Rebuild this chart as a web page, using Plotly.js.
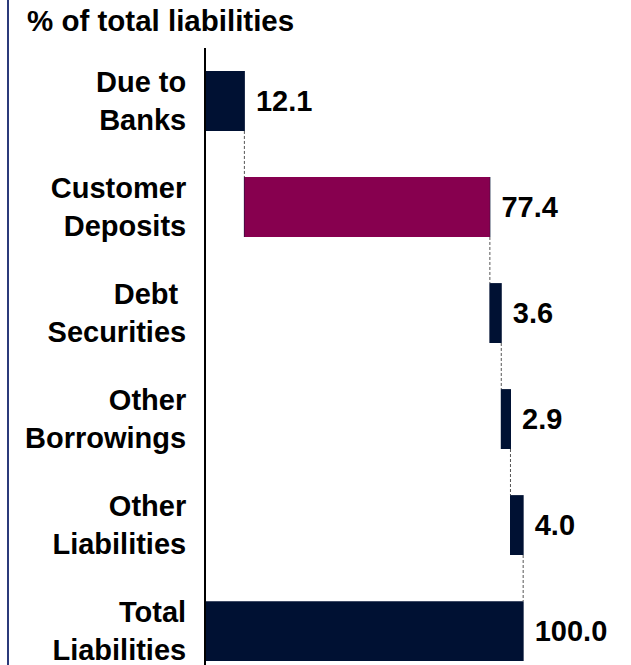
<!DOCTYPE html>
<html>
<head>
<meta charset="utf-8">
<script src="https://cdn.plot.ly/plotly-3.0.1.min.js"></script>
<style>
html,body{margin:0;padding:0;background:#fff;}
#chart{width:631px;height:665px;}
</style>
</head>
<body>
<div id="chart"></div>
<script>
var categories = ["Due to<br>Banks", "Customer<br>Deposits", "Debt <br>Securities", "Other<br>Borrowings", "Other<br>Liabilities", "Total<br>Liabilities"];
var values = [12.1, 77.4, 3.6, 2.9, 4.0, 100.0];
var measures = ["relative", "relative", "relative", "relative", "relative", "total"];
var highlightIndex = 1; // Customer Deposits
var chartTitle = "% of total liabilities";

var navy = "#001133";
var magenta = "#87004F";
var font = "Liberation Sans, Arial, sans-serif";

// cumulative start for the highlighted bar
var base = 0;
for (var i = 0; i < highlightIndex; i++) base += values[i];

var waterfall = {
  type: "waterfall",
  orientation: "h",
  y: categories,
  x: values,
  measure: measures,
  text: values.map(function(v){ return " " + v.toFixed(1); }),
  textposition: "outside",
  textfont: {family: font, size: 29, color: "#000", weight: "bold"},
  cliponaxis: false,
  width: 0.565,
  increasing: {marker: {color: navy}},
  decreasing: {marker: {color: navy}},
  totals: {marker: {color: navy}},
  connector: {mode: "between", line: {color: "#555", width: 1, dash: "3px,2px"}},
  hoverinfo: "none"
};

var highlight = {
  type: "bar",
  orientation: "h",
  y: [categories[highlightIndex]],
  x: [values[highlightIndex]],
  base: [base],
  width: 0.565,
  marker: {color: magenta},
  hoverinfo: "none"
};

var layout = {
  width: 631,
  height: 665,
  margin: {l: 206, r: 0, t: 48, b: 0},
  paper_bgcolor: "#fff",
  plot_bgcolor: "#fff",
  showlegend: false,
  barmode: "overlay",
  waterfallmode: "overlay",
  title: {
    text: chartTitle,
    font: {family: font, size: 29.5, color: "#000", weight: "bold"},
    x: 27/631, xanchor: "left", xref: "container",
    y: 1 - 21/665, yanchor: "middle", yref: "container"
  },
  xaxis: {
    range: [0, 134],
    showgrid: false, zeroline: false, showticklabels: false, showline: false,
    fixedrange: true
  },
  yaxis: {
    type: "category",
    categoryorder: "array",
    categoryarray: categories,
    range: [5.32, -0.5],
    showgrid: false, zeroline: false,
    showline: true, linecolor: "#000", linewidth: 2,
    ticks: "",
    ticklabelstandoff: 12,
    tickfont: {family: font, size: 29, color: "#000", weight: "bold"},
    fixedrange: true
  },
  shapes: [{
    type: "line", xref: "paper", yref: "paper",
    x0: -198/425, x1: -198/425, y0: 0, y1: 1 + 48/617,
    line: {color: "#2B3A7A", width: 2}
  }]
};

Plotly.newPlot("chart", [waterfall, highlight], layout, {displayModeBar: false, staticPlot: true});
</script>
</body>
</html>
